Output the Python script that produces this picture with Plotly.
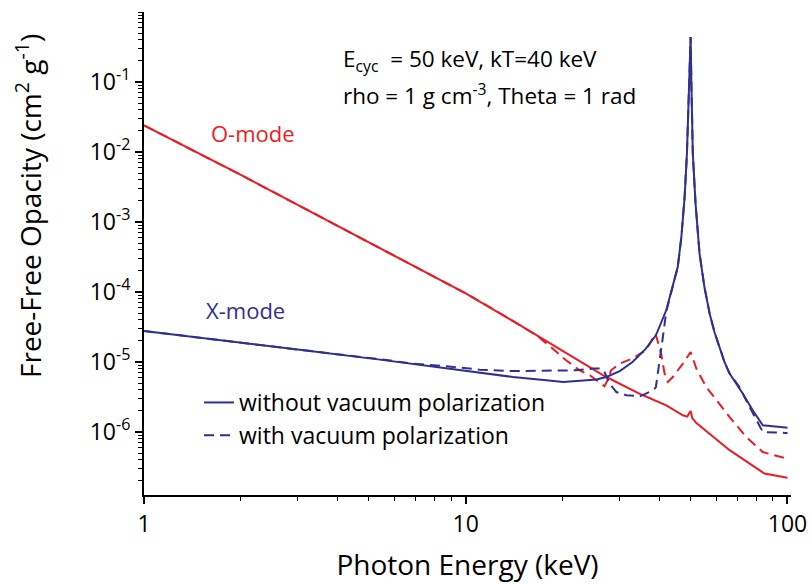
import plotly.graph_objects as go

# Photon energies (keV) and log10 opacities (cm^2 g^-1) for each mode
o_solid_E = [1, 2, 5, 10, 15, 20, 27, 35, 42, 47.3, 48.8, 50, 50.6, 52, 66.1, 84.8, 99.1, 100]
o_solid_logk = [-1.62, -2.327, -3.291, -4.02, -4.494, -4.839, -5.2, -5.461, -5.62, -5.761,
                -5.78, -5.70, -5.80, -5.87, -6.26, -6.594, -6.651, -6.655]

o_dash_E = [1, 2, 5, 10, 12.75, 14.7, 16.6, 18.4, 20.5, 22.6, 24.3, 26.4, 27.0, 27.6, 28.3,
            30.1, 33.0, 36.3, 38.9, 40.5, 41.5, 42.5, 44.0, 47.3, 50, 52.1, 55.9, 66.1,
            74.4, 83.8, 98.6, 100]
o_dash_logk = [-1.62, -2.327, -3.291, -4.02, -4.30, -4.476, -4.62, -4.786, -4.976, -5.119,
               -5.19, -5.309, -5.347, -5.26, -5.119, -5.023, -4.95, -4.833, -4.595, -4.88,
               -5.166, -5.286, -5.214, -5.023, -4.857, -5.094, -5.357, -5.786, -6.071,
               -6.286, -6.38, -6.383]

x_solid_E = [1, 1.77, 3.14, 5.41, 8.71, 11.05, 14.0, 17.8, 20.1, 25.5, 27.35, 30.1, 33.0,
             36.3, 39.0, 42.0, 44.0, 45.6, 46.8, 47.9, 48.7, 49.4, 50, 50.3, 50.8, 51.8,
             53.3, 55.2, 57.3, 59.3, 61.5, 63.7, 66.1, 72.6, 78.0, 83.8, 98.6, 100]
x_solid_logk = [-4.557, -4.70, -4.833, -4.966, -5.094, -5.15, -5.214, -5.262, -5.285, -5.251,
                -5.214, -5.13, -5.0, -4.809, -4.619, -4.261, -3.929, -3.643, -3.214, -2.643,
                -2.023, -1.071, -0.357, -1.071, -2.023, -2.737, -3.451, -3.929, -4.309,
                -4.571, -4.786, -5.0, -5.166, -5.451, -5.69, -5.904, -5.937, -5.94]

x_dash_E = [1, 1.77, 3.14, 5.41, 6.86, 8.71, 11.05, 14.0, 17.8, 22.0, 24.8, 26.4, 27.0,
            28.0, 29.4, 31.6, 34.8, 38.3, 39.0, 40.0, 41.0, 42.0, 44.0, 45.6, 46.8, 47.9,
            48.7, 49.4, 50, 50.3, 50.8, 51.8, 53.3, 55.2, 57.3, 59.3, 61.5, 63.7, 66.1,
            70.9, 75.3, 80.0, 83.8, 98.6, 100]
x_dash_logk = [-4.557, -4.70, -4.833, -4.96, -5.023, -5.061, -5.109, -5.129, -5.129, -5.119,
               -5.094, -5.094, -5.143, -5.309, -5.429, -5.476, -5.49, -5.404, -5.357,
               -5.023, -4.643, -4.28, -3.929, -3.643, -3.214, -2.643, -2.023, -1.071,
               -0.357, -1.071, -2.023, -2.737, -3.451, -3.929, -4.309, -4.571, -4.786,
               -5.0, -5.166, -5.357, -5.594, -5.833, -6.0, -6.014, -6.015]

y_tick_vals = [1e-6, 1e-5, 1e-4, 1e-3, 1e-2, 1e-1]
y_tick_text = ["10<sup>-6</sup>", "10<sup>-5</sup>", "10<sup>-4</sup>",
               "10<sup>-3</sup>", "10<sup>-2</sup>", "10<sup>-1</sup>"]
x_tick_vals = [1, 10, 100]
x_tick_text = ["1", "10", "100"]

RED = "#ED1C24"
BLUE = "#2E3192"
FONT = "Open Sans"
DASH = "10px,6px"

# plot-area geometry in pixels, used to place the free text
L, R, T, B = 144, 20, 12, 89
W, H = 811, 584
PW, PH = W - L - R, H - T - B


def px(x):
    return (x - L) / PW


def py(y):
    return (H - B - y) / PH


def pw(vals):
    return [10 ** v for v in vals]


fig = go.Figure()
fig.add_trace(go.Scatter(x=o_solid_E, y=pw(o_solid_logk), mode="lines",
                         line=dict(color=RED, width=2), showlegend=False))
fig.add_trace(go.Scatter(x=o_dash_E, y=pw(o_dash_logk), mode="lines",
                         line=dict(color=RED, width=2, dash=DASH), showlegend=False))
fig.add_trace(go.Scatter(x=x_dash_E, y=pw(x_dash_logk), mode="lines",
                         line=dict(color=BLUE, width=2, dash=DASH), showlegend=False))
fig.add_trace(go.Scatter(x=x_solid_E, y=pw(x_solid_logk), mode="lines",
                         line=dict(color=BLUE, width=2), showlegend=False))

# legend key entries
fig.add_trace(go.Scatter(x=[None], y=[None], mode="lines", name="without vacuum polarization",
                         line=dict(color=BLUE, width=2)))
fig.add_trace(go.Scatter(x=[None], y=[None], mode="lines", name="with vacuum polarization",
                         line=dict(color=BLUE, width=2, dash=DASH)))

axis_common = dict(
    type="log", showline=True, linecolor="black", linewidth=2, mirror=False,
    ticks="outside", ticklen=7, tickwidth=1.5, tickcolor="black",
    showgrid=False, zeroline=False, automargin=False,
    tickfont=dict(family=FONT, size=23, color="black"),
    minor=dict(ticks="outside", ticklen=4, tickwidth=1.2, tickcolor="black",
               dtick="D1", showgrid=False),
)

fig.update_xaxes(**axis_common, range=[0, 2.011], tickvals=x_tick_vals, ticktext=x_tick_text,
                 title=dict(text="Photon Energy (keV)", font=dict(family=FONT, size=28, color="black"),
                            standoff=18))
fig.update_yaxes(**axis_common, range=[-6.9, 0], tickvals=y_tick_vals, ticktext=y_tick_text)

fig.add_annotation(text="Free-Free Opacity (cm<sup>2</sup> g<sup>-1</sup>)", xref="paper", yref="paper",
                   x=px(28.5), y=py(206.5), xanchor="center", yanchor="middle", textangle=-90,
                   showarrow=False, font=dict(family=FONT, size=28, color="black"))
fig.add_annotation(text="O-mode", xref="paper", yref="paper", x=px(253), y=py(133),
                   xanchor="center", yanchor="middle",
                   showarrow=False, font=dict(family=FONT, size=22, color=RED))
fig.add_annotation(text="X-mode", xref="paper", yref="paper", x=px(245), y=py(310),
                   xanchor="center", yanchor="middle",
                   showarrow=False, font=dict(family=FONT, size=22, color=BLUE))
fig.add_annotation(text="E<sub>cyc</sub>  = 50 keV, kT=40 keV", xref="paper", yref="paper",
                   x=px(341), y=py(60), xanchor="left", yanchor="middle", showarrow=False,
                   font=dict(family=FONT, size=22.5, color="black"))
fig.add_annotation(text="rho = 1 g cm<sup>-3</sup>, Theta = 1 rad", xref="paper", yref="paper",
                   x=px(341), y=py(94), xanchor="left", yanchor="middle", showarrow=False,
                   font=dict(family=FONT, size=22.5, color="black"))

fig.update_layout(
    width=W, height=H,
    margin=dict(l=L, r=R, t=T, b=B),
    paper_bgcolor="white", plot_bgcolor="white",
    legend=dict(x=px(199), y=py(381), xanchor="left", yanchor="top",
                font=dict(family=FONT, size=23, color="black"),
                bgcolor="rgba(0,0,0,0)", tracegroupgap=0),
)

fig.write_html("out.html")
